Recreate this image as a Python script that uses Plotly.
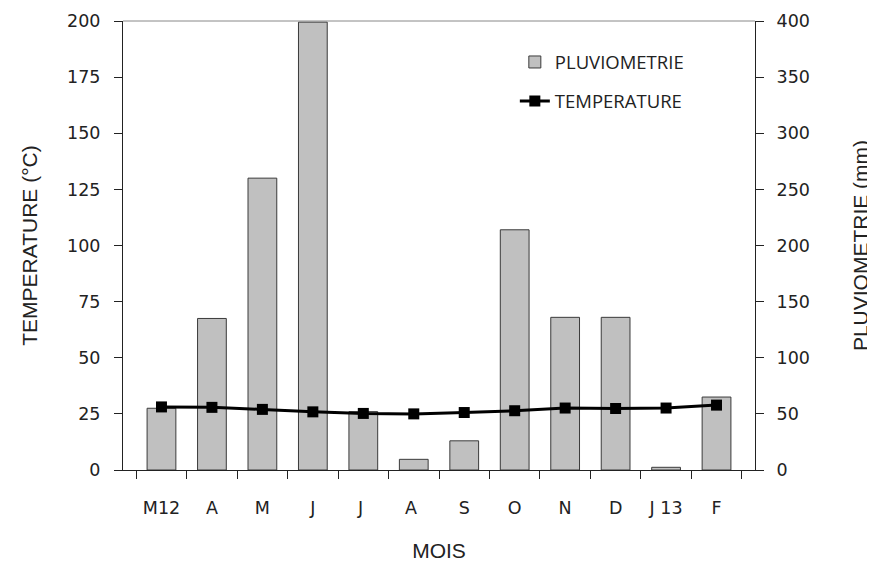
import plotly.graph_objects as go

mois = ["M12", "A", "M", "J", "J ", "A ", "S", "O", "N", "D", "J 13", "F"]
pluviometrie = [55, 135, 260, 399, 52, 9.5, 26, 214, 136, 136, 2.4, 65]
temperature = [28.1, 27.9, 27.0, 25.9, 25.2, 25.0, 25.6, 26.4, 27.6, 27.4, 27.6, 28.9]

tick_font = dict(family="DejaVu Sans", size=17.5, color="#222")
title_font = dict(family="Liberation Sans", size=21, color="#222")

fig = go.Figure()
fig.add_trace(go.Bar(
    x=mois, y=pluviometrie, name="PLUVIOMETRIE", yaxis="y",
    marker=dict(color="#C0C0C0", line=dict(color="#3a3a3a", width=1)),
    legendgroup="p",
))
fig.add_trace(go.Scatter(
    x=mois, y=temperature, name="TEMPERATURE", yaxis="y2",
    mode="lines+markers",
    line=dict(color="black", width=3),
    marker=dict(symbol="square", size=11, color="black"),
    legendgroup="t",
))

fig.update_layout(
    width=875, height=562,
    margin=dict(l=115, r=128, t=13, b=100),
    paper_bgcolor="white", plot_bgcolor="white",
    bargap=0.43,
    showlegend=True,
    legend=dict(x=0.62, y=0.95, xanchor="left", yanchor="top",
                font=dict(family="Open Sans", size=18.5, color="#222"),
                tracegroupgap=12, bgcolor="rgba(0,0,0,0)"),
    xaxis=dict(
        type="category", tickson="boundaries", ticks="outside", ticklen=8,
        tickcolor="#222", showline=True, linecolor="#222", linewidth=1,
        showgrid=False, tickfont=tick_font, automargin=False,
        ticklabelstandoff=22,
        title=dict(text="MOIS", font=title_font, standoff=26),
    ),
    yaxis=dict(
        side="right", range=[0, 400], dtick=50, ticks="outside", ticklen=8,
        tickcolor="#222", showline=True, linecolor="#222", linewidth=1,
        showgrid=False, zeroline=False, tickfont=tick_font, automargin=False,
        ticklabelstandoff=9,
        title=dict(text="PLUVIOMETRIE (mm)", font=title_font, standoff=44),
    ),
    yaxis2=dict(
        side="left", overlaying="y", range=[0, 200], dtick=25, ticks="outside",
        ticklen=8, tickcolor="#222", showline=True, linecolor="#222", linewidth=1,
        showgrid=False, zeroline=False, tickfont=tick_font, automargin=False,
        ticklabelstandoff=10,
        title=dict(text="TEMPERATURE (°C)", font=title_font, standoff=23),
    ),
    shapes=[dict(type="line", xref="paper", yref="paper", x0=0, x1=1, y0=1, y1=1,
                 line=dict(color="#888", width=1))],
)

fig.write_html("out.html")
